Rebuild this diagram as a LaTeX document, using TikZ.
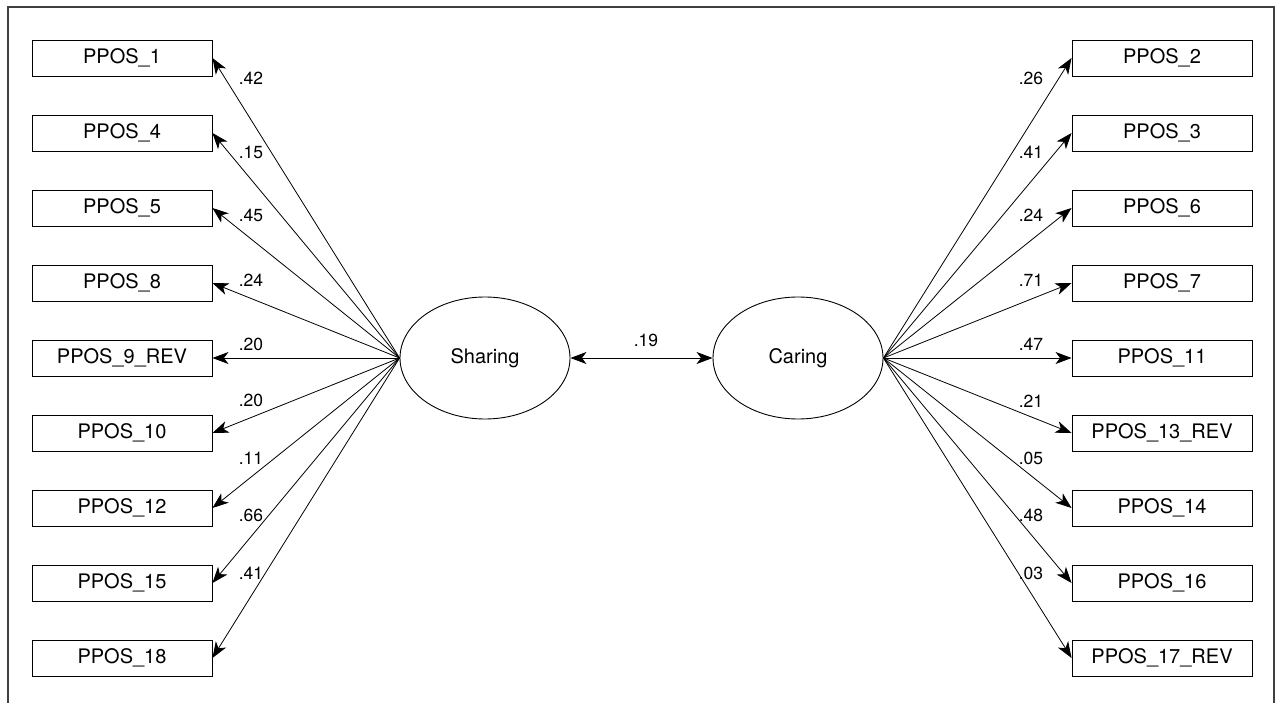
\documentclass[tikz,border=0pt]{standalone}
\usepackage{fontspec}
\setmainfont{TeX Gyre Heros}
\usetikzlibrary{arrows.meta,shapes.geometric}
\begin{document}
\begin{tikzpicture}[x=1pt,y=-1pt,
  obs/.style={draw,line width=0.9pt,minimum width=180pt,minimum height=36pt,inner sep=0pt,font=\fontsize{20}{24}\selectfont},
  lat/.style={draw,ellipse,line width=0.9pt,minimum width=170pt,minimum height=122pt,inner sep=0pt,font=\fontsize{20}{24}\selectfont},
  arr/.style={line width=0.8pt,-{Stealth[length=16pt,width=12pt,inset=4.5pt]}},
  darr/.style={line width=0.8pt,{Stealth[length=16pt,width=12pt,inset=4.5pt]}-{Stealth[length=16pt,width=12pt,inset=4.5pt]}},
  lab/.style={font=\fontsize{17.5}{21}\selectfont,inner sep=0pt},
  frame/.style={line width=1.4pt,draw=black!75}]
\useasboundingbox (0,0) rectangle (1277,703);
\draw[frame] (8,703) -- (8,7) -- (1274,7) -- (1274,703);
% latent
\node[lat] (sh) at (485,358) {Sharing};
\node[lat] (ca) at (798,358) {Caring};
\draw[darr] (sh.east) -- (ca.west);
\node[lab] (lc) at (646,340) {.19};
% left indicators
\foreach \n/\t/\i/\v/\ly in {l1/PPOS\_1/0/.42/78, l2/PPOS\_4/1/.15/152, l3/PPOS\_5/2/.45/215, l4/PPOS\_8/3/.24/280, l5/PPOS\_9\_REV/4/.20/344, l6/PPOS\_10/5/.20/400, l7/PPOS\_12/6/.11/458, l8/PPOS\_15/7/.66/515, l9/PPOS\_18/8/.41/573}{
  \node[obs] (\n) at (122,58+75*\i) {\t};
  \draw[arr] (sh.west) -- (\n.east);
  \node[lab] (\n lab) at (251,\ly) {\v};
}
% right indicators
\foreach \n/\t/\i/\v/\ly in {r1/PPOS\_2/0/.26/78, r2/PPOS\_3/1/.41/152, r3/PPOS\_6/2/.24/215, r4/PPOS\_7/3/.71/280, r5/PPOS\_11/4/.47/344, r6/PPOS\_13\_REV/5/.21/401, r7/PPOS\_14/6/.05/458, r8/PPOS\_16/7/.48/515, r9/PPOS\_17\_REV/8/.03/573}{
  \node[obs] (\n) at (1162,58+75*\i) {\t};
  \draw[arr] (ca.east) -- (\n.west);
  \node[lab] (\n lab) at (1031,\ly) {\v};
}
\end{tikzpicture}
\end{document}
